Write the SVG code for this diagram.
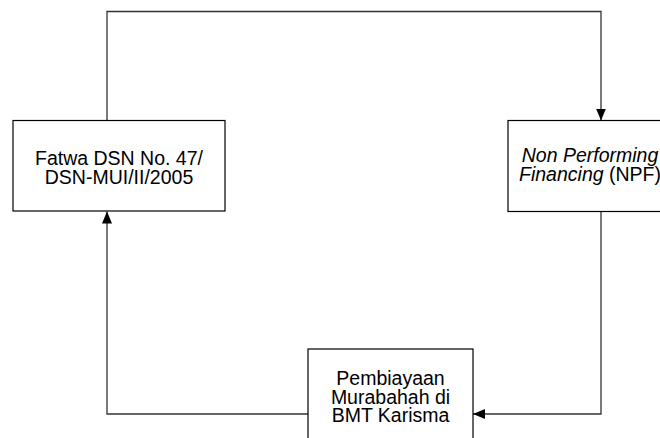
<svg xmlns="http://www.w3.org/2000/svg" width="660" height="438" viewBox="0 0 660 438">
  <style>
    .box { fill: #ffffff; stroke: #000000; stroke-width: 1.2; }
    .lbl { font-family: "Liberation Sans", Arial, sans-serif; font-size: 19.5px; fill: #000000; text-anchor: middle; }
    .it { font-style: italic; }
    .conn { fill: none; stroke: #333333; stroke-width: 1.3; }
  </style>
  <defs>
    <marker id="arr" markerUnits="userSpaceOnUse" markerWidth="12" markerHeight="10" refX="12" refY="5" orient="auto">
      <path d="M0,0 L12,5 L0,10 Z" fill="#000000"/>
    </marker>
  </defs>
  <rect width="660" height="438" fill="#ffffff"/>
  <g id="connectors">
    <path class="conn" d="M107,120.5 V11.5 H601 V120.5" marker-end="url(#arr)"/>
    <path class="conn" d="M308,414 H107 V211.5" marker-end="url(#arr)"/>
    <path class="conn" d="M601,211.5 V414 H473" marker-end="url(#arr)"/>
  </g>
  <g id="fatwa">
    <rect class="box" x="13" y="120.5" width="212" height="90.5"/>
    <text class="lbl" x="119" y="165">Fatwa DSN No. 47/</text>
    <text class="lbl" x="119" y="184">DSN-MUI/II/2005</text>
  </g>
  <g id="npf">
    <rect class="box" x="508" y="120.5" width="158" height="91"/>
    <text class="lbl" x="590" y="161.5"><tspan class="it">Non Performing</tspan></text>
    <text class="lbl" x="590" y="180.5"><tspan class="it">Financing</tspan> (NPF)</text>
  </g>
  <g id="murabahah">
    <rect class="box" x="308" y="349" width="165" height="100"/>
    <text class="lbl" x="390.5" y="384.5">Pembiayaan</text>
    <text class="lbl" x="390.5" y="403.5">Murabahah di</text>
    <text class="lbl" x="390.5" y="422">BMT Karisma</text>
  </g>
</svg>
